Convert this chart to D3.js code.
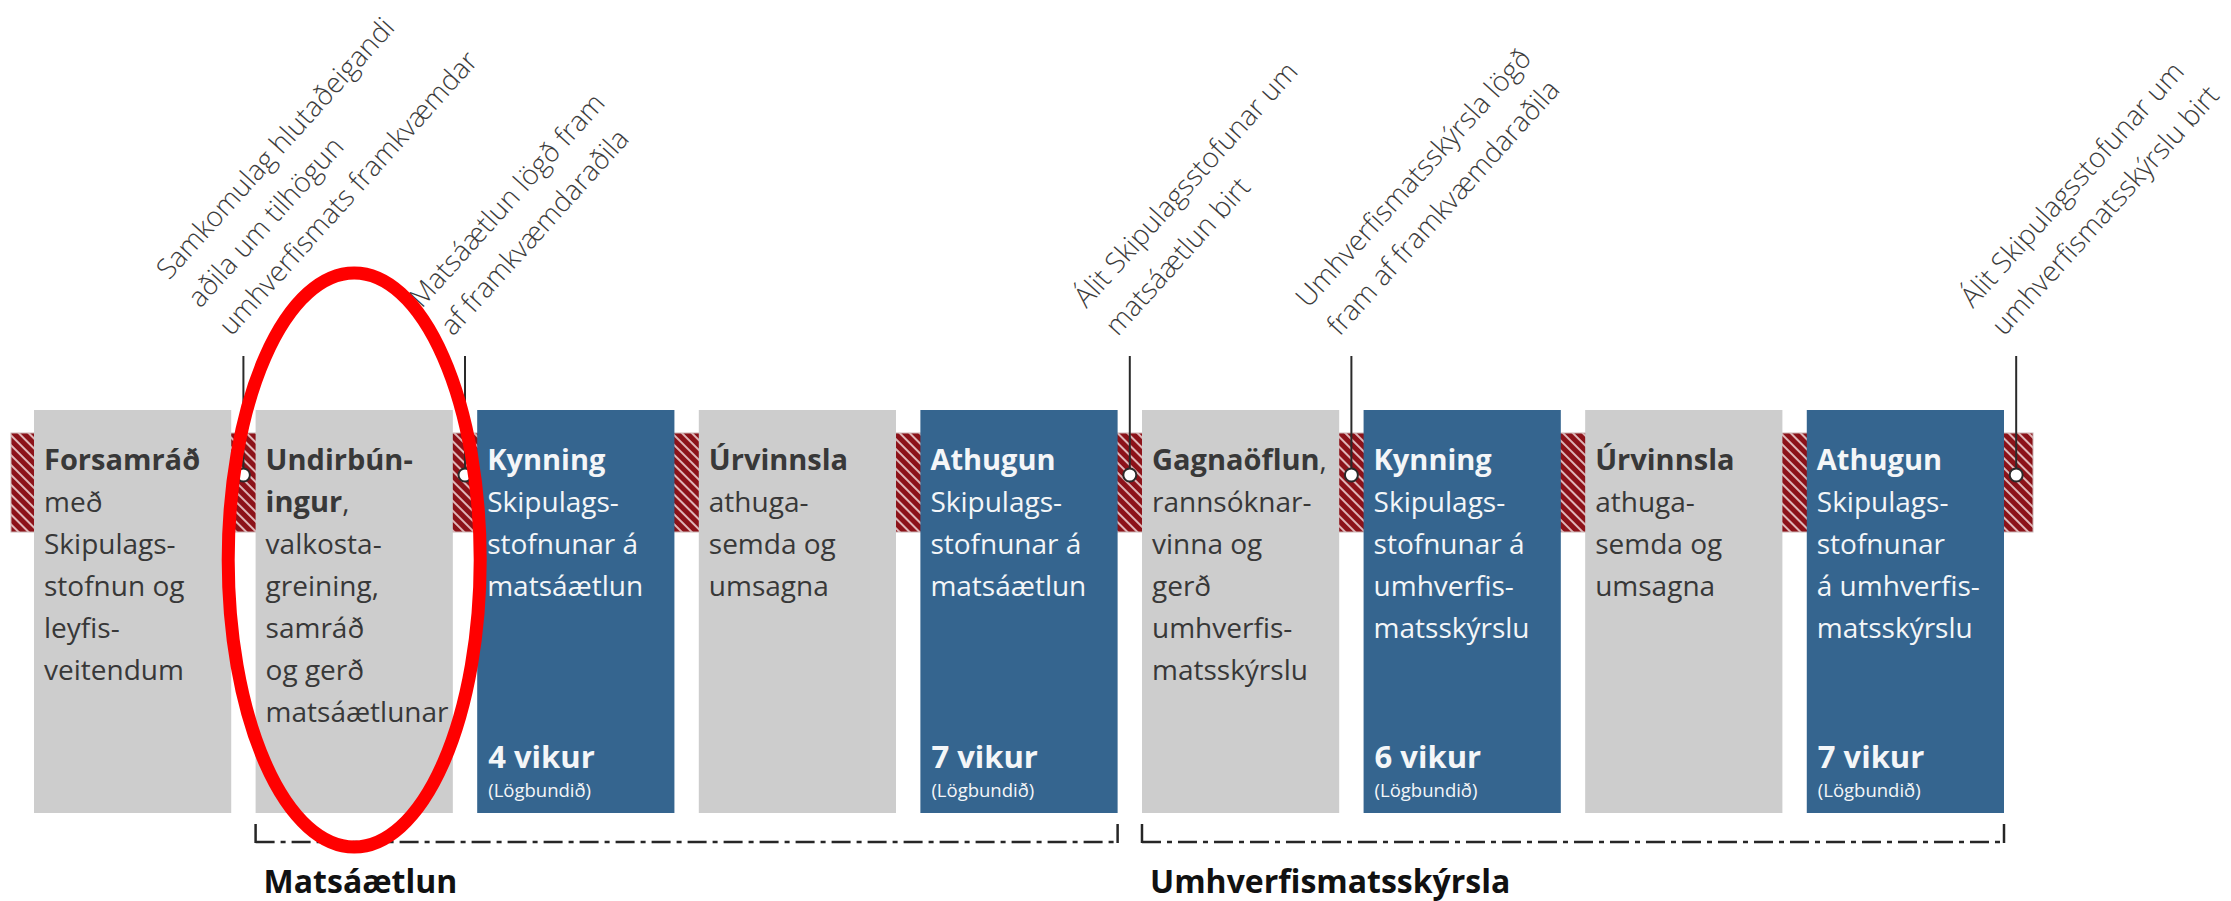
<!DOCTYPE html>
<html>
<head>
<meta charset="utf-8">
<script src="https://cdn.jsdelivr.net/npm/d3@7"></script>
<style>
  html, body { margin: 0; padding: 0; background: #ffffff; }
  svg { display: block; }
  text { font-family: "Open Sans", "Noto Sans", sans-serif; }
</style>
</head>
<body>
<svg id="chart" width="2231" height="901"></svg>
<script>
// ---------- data ----------
const stageTitles = [["Forsamráð"], ["Undirbún-", "ingur"], ["Kynning"], ["Úrvinnsla"], ["Athugun"],
                     ["Gagnaöflun"], ["Kynning"], ["Úrvinnsla"], ["Athugun"]];
const stageTitleSuffix = ["", ",", "", "", "", ",", "", "", ""];
const stageText = [
  ["með", "Skipulags-", "stofnun og", "leyfis-", "veitendum"],
  ["valkosta-", "greining,", "samráð", "og gerð", "matsáætlunar"],
  ["Skipulags-", "stofnunar á", "matsáætlun"],
  ["athuga-", "semda og", "umsagna"],
  ["Skipulags-", "stofnunar á", "matsáætlun"],
  ["rannsóknar-", "vinna og", "gerð", "umhverfis-", "matsskýrslu"],
  ["Skipulags-", "stofnunar á", "umhverfis-", "matsskýrslu"],
  ["athuga-", "semda og", "umsagna"],
  ["Skipulags-", "stofnunar", "á umhverfis-", "matsskýrslu"]
];
const stageKind = ["other", "other", "statutory", "other", "statutory", "other", "statutory", "other", "statutory"];
const stageWeeks = [null, null, 4, null, 7, null, 6, null, 7];
const weeksUnit = "vikur";
const weeksNote = "(Lögbundið)";

const milestoneAfter = [0, 1, 4, 5, 8];
const milestoneText = [
  ["Samkomulag hlutaðeigandi", "aðila um tilhögun", "umhverfismats framkvæmdar"],
  ["Matsáætlun lögð fram", "af framkvæmdaraðila"],
  ["Álit Skipulagsstofunar um", "matsáætlun birt"],
  ["Umhverfismatsskýrsla lögð", "fram af framkvæmdaraðila"],
  ["Álit Skipulagsstofunar um", "umhverfismatsskýrslu birt"]
];

const phaseLabels = ["Matsáætlun", "Umhverfismatsskýrsla"];
const phaseStart = [1, 5];
const phaseEnd = [4, 8];

const highlightStage = 1;

// ---------- layout ----------
const svg = d3.select("#chart");
const x = d3.scaleBand().domain(d3.range(stageTitles.length)).range([34, 2004]).paddingInner(0.11).paddingOuter(0);
const bw = x.bandwidth();
const gap = x.step() - bw;

const boxTop = 410, boxBottom = 813;
const bandTop = 433, bandBottom = 532;
const lineH = 42;

const colors = { other: "#cdcdcd", statutory: "#35658f" };
const textColors = { other: "#383838", statutory: "#f4f6f8" };

// hatch pattern
const defs = svg.append("defs");
const pat = defs.append("pattern")
  .attr("id", "hatch").attr("patternUnits", "userSpaceOnUse")
  .attr("width", 7).attr("height", 7)
  .attr("patternTransform", "rotate(-45)");
pat.append("rect").attr("width", 7).attr("height", 7).attr("fill", "#8c1219");
pat.append("line").attr("x1", 1).attr("x2", 1).attr("y1", 0).attr("y2", 7)
  .attr("stroke", "#fbecec").attr("stroke-width", 1.5);

// band
const bandLeft = x(0) - 23;
const bandRight = x(stageTitles.length - 1) + bw + 29;
svg.append("rect")
  .attr("x", bandLeft).attr("y", bandTop)
  .attr("width", bandRight - bandLeft).attr("height", bandBottom - bandTop)
  .attr("fill", "url(#hatch)")
  .attr("stroke", "#c9b3b3").attr("stroke-width", 1);

// boxes
const stages = svg.append("g").selectAll("g").data(stageTitles).join("g")
  .attr("transform", (d, i) => `translate(${x(i)},0)`);

stages.append("rect")
  .attr("y", boxTop).attr("width", bw).attr("height", boxBottom - boxTop)
  .attr("fill", (d, i) => colors[stageKind[i]]);

stages.each(function (title, i) {
  const g = d3.select(this);
  const col = textColors[stageKind[i]];
  const t = g.append("text").attr("fill", col).attr("font-size", 28);
  let line = 0;
  title.forEach((s, k) => {
    t.append("tspan").attr("x", 10).attr("y", 470 + line * lineH)
      .attr("font-weight", 700).attr("font-size", 29).text(s);
    if (k === title.length - 1 && stageTitleSuffix[i]) {
      t.append("tspan").attr("font-weight", 400).text(stageTitleSuffix[i]);
    }
    line++;
  });
  stageText[i].forEach(s => {
    t.append("tspan").attr("x", 10).attr("y", 470 + line * lineH).attr("font-weight", 400).text(s);
    line++;
  });
  if (stageWeeks[i] != null) {
    g.append("text").attr("x", 11).attr("y", 768)
      .attr("fill", col).attr("font-size", 31).attr("font-weight", 700)
      .text(stageWeeks[i] + " " + weeksUnit);
    g.append("text").attr("x", 11).attr("y", 797)
      .attr("fill", col).attr("font-size", 18.5).attr("font-weight", 400)
      .text(weeksNote);
  }
});

// milestones
const mX = i => x(i) + bw + gap / 2;
const ms = svg.append("g").selectAll("g").data(milestoneAfter).join("g");
ms.append("line")
  .attr("x1", d => mX(d)).attr("x2", d => mX(d))
  .attr("y1", 356).attr("y2", 468)
  .attr("stroke", "#2a2a2a").attr("stroke-width", 2);
ms.append("circle")
  .attr("cx", d => mX(d)).attr("cy", 475).attr("r", 6.5)
  .attr("fill", "#ffffff").attr("stroke", "#2a2a2a").attr("stroke-width", 2);

ms.each(function (d, j) {
  const lines = milestoneText[j];
  const n = lines.length;
  const t = d3.select(this).append("text")
    .attr("transform", `translate(${mX(d) - 12},337) rotate(-48)`)
    .attr("fill", "#3c3c3c").attr("font-size", 28).attr("font-weight", 300);
  lines.forEach((s, k) => {
    t.append("tspan").attr("x", 0).attr("y", -(n - 1 - k) * lineH).text(s);
  });
});

// phase brackets
const phases = svg.append("g").selectAll("g").data(phaseLabels).join("g");
phases.append("line")
  .attr("x1", (d, i) => x(phaseStart[i])).attr("x2", (d, i) => x(phaseEnd[i]) + bw)
  .attr("y1", 842).attr("y2", 842)
  .attr("stroke", "#262626").attr("stroke-width", 2.5)
  .attr("stroke-dasharray", "19,6,5,6");
phases.append("line")
  .attr("x1", (d, i) => x(phaseStart[i])).attr("x2", (d, i) => x(phaseStart[i]))
  .attr("y1", 824).attr("y2", 843)
  .attr("stroke", "#262626").attr("stroke-width", 2.5);
phases.append("line")
  .attr("x1", (d, i) => x(phaseEnd[i]) + bw).attr("x2", (d, i) => x(phaseEnd[i]) + bw)
  .attr("y1", 824).attr("y2", 843)
  .attr("stroke", "#262626").attr("stroke-width", 2.5);
phases.append("text")
  .attr("x", (d, i) => x(phaseStart[i]) + 8).attr("y", 893)
  .attr("font-size", 32).attr("font-weight", 700).attr("fill", "#111111")
  .text(d => d);

// highlight ellipse
svg.append("ellipse")
  .attr("cx", x(highlightStage) + bw / 2).attr("cy", 560)
  .attr("rx", 126).attr("ry", 287)
  .attr("fill", "none").attr("stroke", "#ff0000").attr("stroke-width", 13);
</script>
</body>
</html>
